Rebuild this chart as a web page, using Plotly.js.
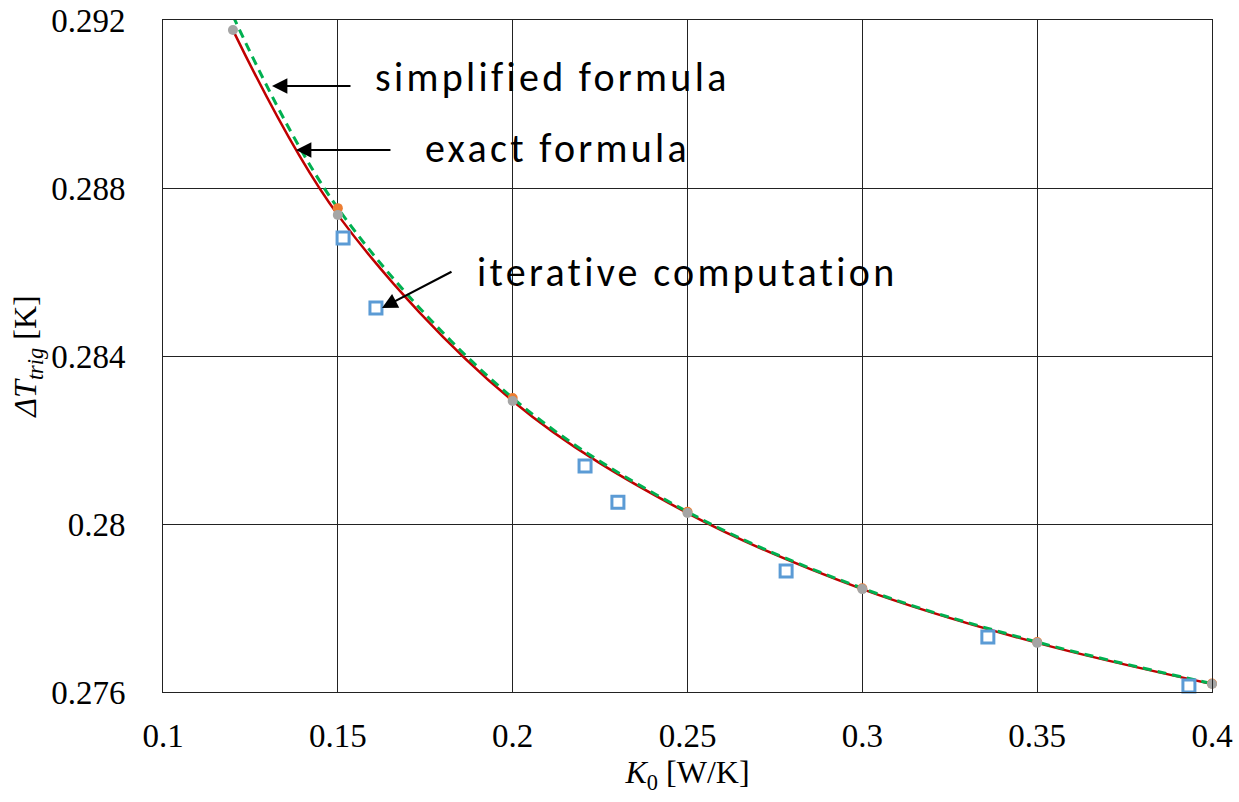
<!DOCTYPE html>
<html>
<head>
<meta charset="utf-8">
<script src="https://cdn.plot.ly/plotly-3.0.1.min.js"></script>
<style>html,body{margin:0;padding:0;background:#fff;}#chart{width:1239px;height:802px;}</style>
</head>
<body>
<div id="chart"></div>
<script>
// Exact formula (red curve + grey dots)
const exactK = [0.12, 0.15, 0.2, 0.25, 0.3, 0.35, 0.4];
const exactT = [0.29176, 0.28736, 0.28293, 0.28026, 0.27845, 0.27717, 0.27619];
// Simplified formula (green dashed curve + orange dots)
const simpK = [0.12, 0.15, 0.2, 0.25, 0.3, 0.35, 0.4];
const simpT = [0.29210, 0.28752, 0.28300, 0.28029, 0.27847, 0.27719, 0.27620];
// Iterative computation (blue squares)
const iterK = [0.1515, 0.1609, 0.2207, 0.2301, 0.2782, 0.3359, 0.3934];
const iterT = [0.28681, 0.28514, 0.28138, 0.28052, 0.27888, 0.27731, 0.27614];
// Axis ticks
const xTicks = [0.1, 0.15, 0.2, 0.25, 0.3, 0.35, 0.4];
const xTickText = ["0.1", "0.15", "0.2", "0.25", "0.3", "0.35", "0.4"];
const yTicks = [0.276, 0.28, 0.284, 0.288, 0.292];
const yTickText = ["0.276", "0.28", "0.284", "0.288", "0.292"];

const serif = "Liberation Serif, Times New Roman, serif";
const sans = "Carlito, Open Sans, Noto Sans, sans-serif";
const spaced = s => "<span style='letter-spacing:3.3px'>" + s + "</span>";

const traces = [
  {x: exactK, y: exactT, mode: "lines", line: {color: "#C00000", width: 2.5, shape: "spline"}, name: "exact formula"},
  {x: simpK, y: simpT, mode: "lines", line: {color: "#00B050", width: 3, dash: "9px,6px", shape: "spline"}, name: "simplified formula"},
  {x: simpK, y: simpT, mode: "markers", marker: {color: "#ED7D31", size: 10}, cliponaxis: false, name: "simplified points"},
  {x: exactK, y: exactT, mode: "markers", marker: {color: "#A5A5A5", size: 10}, cliponaxis: false, name: "exact points"},
  {x: iterK, y: iterT, mode: "markers", marker: {symbol: "square-open", color: "#5B9BD5", size: 12, line: {width: 3, color: "#5B9BD5"}}, cliponaxis: false, name: "iterative computation"}
];

const layout = {
  width: 1239, height: 802,
  margin: {l: 163, r: 27, t: 20, b: 110},
  paper_bgcolor: "#fff", plot_bgcolor: "#fff",
  showlegend: false,
  font: {family: serif, color: "#000", size: 32},
  xaxis: {
    range: [0.1, 0.4], tickvals: xTicks, ticktext: xTickText,
    showgrid: true, gridcolor: "#222", gridwidth: 1,
    showline: true, linecolor: "#222", linewidth: 1, mirror: true,
    zeroline: false, ticks: "", ticklabelstandoff: 14,
    tickfont: {family: serif, size: 33, color: "#000"},
    title: {text: "<i>K</i><sub>0</sub> [W/K]", font: {family: serif, size: 32, color: "#000"}, standoff: 8}
  },
  yaxis: {
    range: [0.276, 0.292], tickvals: yTicks, ticktext: yTickText,
    showgrid: true, gridcolor: "#222", gridwidth: 1,
    showline: true, linecolor: "#222", linewidth: 1, mirror: true,
    zeroline: false, ticks: "", ticklabelstandoff: 30,
    tickfont: {family: serif, size: 33, color: "#000"},
    title: {text: "<i>ΔT<sub>trig</sub></i> [K]", font: {family: serif, size: 32, color: "#000"}, standoff: 4}
  },
  annotations: [
    {x: 0.16005, y: 0.29062, xref: "x", yref: "y", text: spaced("simplified formula"), showarrow: false, xanchor: "left", yanchor: "middle", font: {family: sans, size: 40, color: "#000"}},
    {x: 0.17435, y: 0.28895, xref: "x", yref: "y", text: spaced("exact formula"), showarrow: false, xanchor: "left", yanchor: "middle", font: {family: sans, size: 40, color: "#000"}},
    {x: 0.18922, y: 0.2860, xref: "x", yref: "y", text: spaced("iterative computation"), showarrow: false, xanchor: "left", yanchor: "middle", font: {family: sans, size: 40, color: "#000"}},
    {x: 0.13117, y: 0.290429, xref: "x", yref: "y", text: "", showarrow: true, ax: 80, ay: 0, arrowhead: 2, arrowsize: 1.4, arrowwidth: 2.2, arrowcolor: "#000"},
    {x: 0.13803, y: 0.288905, xref: "x", yref: "y", text: "", showarrow: true, ax: 96, ay: 0, arrowhead: 2, arrowsize: 1.4, arrowwidth: 2.2, arrowcolor: "#000"},
    {x: 0.16263, y: 0.285143, xref: "x", yref: "y", text: "", showarrow: true, ax: 71, ay: -37, arrowhead: 2, arrowsize: 1.4, arrowwidth: 2.2, arrowcolor: "#000"}
  ]
};

Plotly.newPlot("chart", traces, layout, {staticPlot: true, displayModeBar: false});
</script>
</body>
</html>
